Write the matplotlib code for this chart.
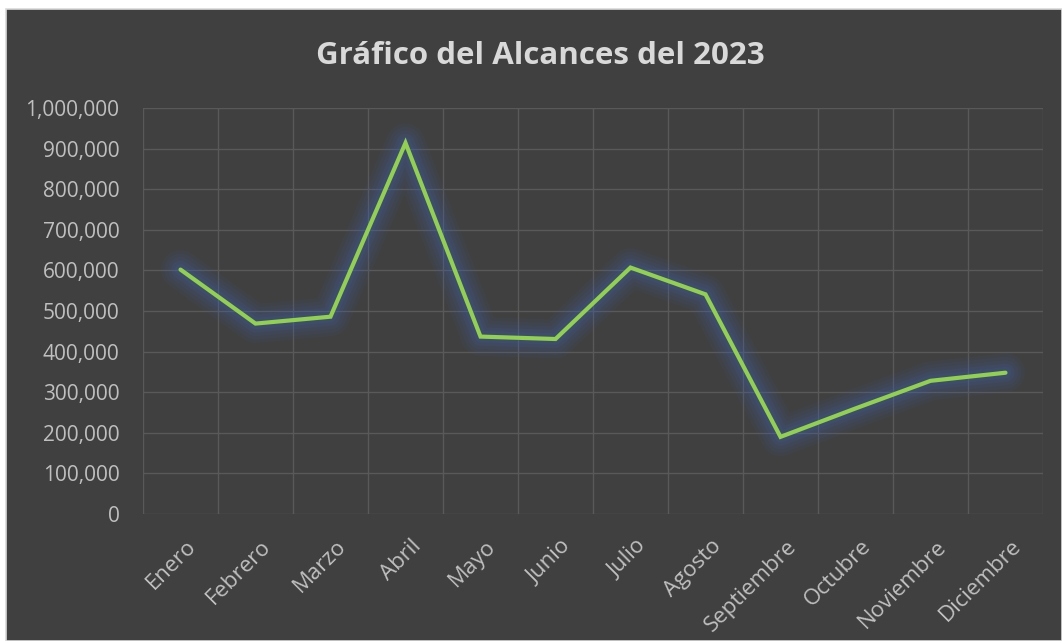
import matplotlib
matplotlib.use('Agg')
import matplotlib.pyplot as plt
import matplotlib.transforms as mtransforms
from matplotlib.patches import Rectangle
from matplotlib.ticker import FuncFormatter, MultipleLocator
import numpy as np

# Data
meses = ['Enero', 'Febrero', 'Marzo', 'Abril', 'Mayo', 'Junio', 'Julio',
         'Agosto', 'Septiembre', 'Octubre', 'Noviembre', 'Diciembre']
alcances = [602000, 469000, 486000, 914000, 437000, 431000, 607000,
            541000, 190000, 260000, 328000, 348000]
titulo = 'Gráfico del Alcances del 2023'

BG = '#404040'
GRID = '#595959'
TEXT = '#bfbfbf'
LINE = '#92d050'
GLOW = '#3f66b8'

W, H = 1062, 641
fig = plt.figure(figsize=(W / 100, H / 100), dpi=100, facecolor='white')

# chart area (dark panel with light border, cropped at right/bottom)
fig.patches.append(Rectangle((6 / W, 0), 1 - 6 / W, 1 - 9 / H, transform=fig.transFigure,
                             facecolor=BG, edgecolor='#d9d9d9', linewidth=1.2, zorder=-5))

ax = fig.add_axes([143 / W, (H - 514) / H, 900 / W, 406 / H])
ax.set_zorder(2)
ax.set_facecolor('none')

x = np.arange(len(meses))

# soft blue glow under the line
for lw, a in [(28, 0.06), (23, 0.07), (18, 0.09), (13, 0.11), (8, 0.14)]:
    ax.plot(x, alcances, color=GLOW, linewidth=lw, alpha=a,
            solid_capstyle='round', solid_joinstyle='round', zorder=2)
ax.plot(x, alcances, color=LINE, linewidth=3.0,
        solid_capstyle='round', solid_joinstyle='miter', zorder=3)

ax.set_xlim(-0.5, len(meses) - 0.5)
ax.set_ylim(0, 1000000)
ax.yaxis.set_major_locator(MultipleLocator(100000))
ax.yaxis.set_major_formatter(FuncFormatter(lambda v, p: f'{int(v):,}'))

# vertical grid at category boundaries
for b in np.arange(-0.5, len(meses), 1.0):
    ax.axvline(b, color=GRID, linewidth=1.0, zorder=1)
ax.grid(axis='y', color=GRID, linewidth=1.0, zorder=1)
ax.set_axisbelow(True)

for s in ax.spines.values():
    s.set_visible(False)

ax.set_xticks(x)
ax.set_xticklabels(meses, rotation=45, ha='right', va='top', rotation_mode='anchor')
ax.tick_params(axis='both', length=0, colors=TEXT, labelsize=15)
ax.tick_params(axis='x', labelsize=16, pad=0)
ax.tick_params(axis='y', pad=17)
for lab in ax.get_xticklabels() + ax.get_yticklabels():
    lab.set_fontfamily('Open Sans')
    lab.set_color(TEXT)

offset = mtransforms.ScaledTranslation(5 / 100, -22 / 100, fig.dpi_scale_trans)
for lab in ax.get_xticklabels():
    lab.set_transform(lab.get_transform() + offset)

fig.text(540 / W, 1 - 56 / H, titulo, ha='center', va='center',
         fontsize=22.5, fontweight='bold', color='#d9d9d9', family='Open Sans')

fig.savefig('out.png', dpi=100, facecolor='white')
